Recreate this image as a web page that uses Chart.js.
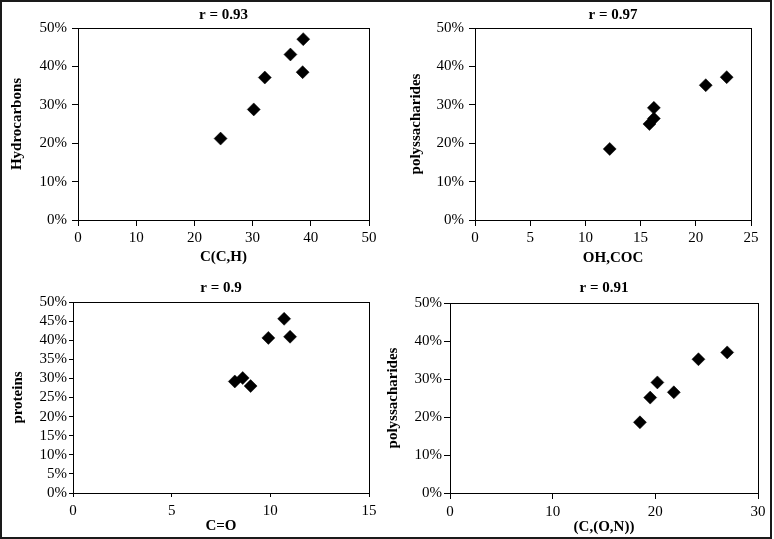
<!DOCTYPE html>
<html>
<head>
<meta charset="utf-8">
<script src="https://cdn.jsdelivr.net/npm/chart.js@4/dist/chart.umd.min.js"></script>
<style>
  html, body { margin: 0; padding: 0; background: #fff; }
  body { width: 774px; height: 539px; position: relative; overflow: hidden; }
  canvas { position: absolute; }
  #frame { position: absolute; left: 0; top: 0; width: 772px; height: 539px;
           box-sizing: border-box; border: 2px solid #1a1a1a; pointer-events: none; }
</style>
</head>
<body>
<canvas id="c1"></canvas>
<canvas id="c2"></canvas>
<canvas id="c3"></canvas>
<canvas id="c4"></canvas>
<div id="frame"></div>
<script>
// data
const titles = ['r = 0.93', 'r = 0.97', 'r = 0.9', 'r = 0.91'];
const xTitles = ['C(C,H)', 'OH,COC', 'C=O', '(C,(O,N))'];
const yTitles = ['Hydrocarbons', 'polyssacharides', 'proteins', 'polyssacharides'];

const hcX = [24.5, 30.2, 32.1, 36.5, 38.7, 38.6];
const hcY = [21.2, 28.8, 37.1, 43.1, 47.1, 38.5];
const ohX = [12.2, 15.8, 16.2, 16.2, 20.9, 22.8];
const ohY = [18.5, 25.0, 26.4, 29.2, 35.1, 37.2];
const coX = [8.2, 8.6, 9.0, 9.9, 10.7, 11.0];
const coY = [29.2, 30.1, 28.0, 40.6, 45.6, 40.9];
const conX = [18.5, 19.5, 20.2, 21.8, 24.2, 27.0];
const conY = [18.6, 25.1, 29.1, 26.5, 35.2, 37.0];

const xMax = [50, 25, 15, 30];
const xStep = [10, 5, 5, 10];
const yMax = [50, 50, 50, 50];
const yStep = [10, 10, 5, 10];

const seriesX = [hcX, ohX, coX, conX];
const seriesY = [hcY, ohY, coY, conY];

// panel placement (canvas box + fixed axis sizes)
const panels = [
  { left: 0,   top: 0,   w: 387, h: 270, yW: 78, xH: 50, padR: 18, padT: 28, tY: 15, yTP: 8,  xTP: 4, tl: 6, ytp: 5, xtp: 3 },
  { left: 387, top: 0,   w: 387, h: 270, yW: 88, xH: 50, padR: 23, padT: 28, tY: 15, yTP: 20, xTP: 3, tl: 6, ytp: 5, xtp: 3 },
  { left: 0,   top: 270, w: 387, h: 269, yW: 73, xH: 46, padR: 18, padT: 32, tY: 18, yTP: 9,  xTP: 4, tl: 4, ytp: 2, xtp: 5 },
  { left: 387, top: 270, w: 387, h: 269, yW: 63, xH: 46, padR: 16, padT: 33, tY: 18, yTP: -3, xTP: 3, tl: 6, ytp: 2, xtp: 4 }
];

const serif = '"Liberation Serif", "Times New Roman", serif';

const boxFrame = {
  id: 'boxFrame',
  beforeDatasetsDraw(chart) {
    const { ctx, chartArea: a } = chart;
    ctx.save();
    ctx.strokeStyle = '#000';
    ctx.lineWidth = 1;
    ctx.strokeRect(Math.round(a.left) + 0.5, Math.round(a.top) + 0.5,
      Math.round(a.right - a.left), Math.round(a.bottom - a.top));
    ctx.restore();
  }
};

// chart title centred over the plot area, like the original
const areaTitle = {
  id: 'areaTitle',
  afterDraw(chart, args, opts) {
    const { ctx, chartArea: a } = chart;
    ctx.save();
    ctx.fillStyle = '#000';
    ctx.font = 'bold 15px ' + serif;
    ctx.textAlign = 'center';
    ctx.textBaseline = 'middle';
    ctx.fillText(opts.text, (a.left + a.right) / 2, opts.y);
    ctx.restore();
  }
};

panels.forEach((p, i) => {
  const cv = document.getElementById('c' + (i + 1));
  cv.style.left = p.left + 'px';
  cv.style.top = p.top + 'px';
  cv.style.width = p.w + 'px';
  cv.style.height = p.h + 'px';
  cv.width = p.w;
  cv.height = p.h;

  const pts = seriesX[i].map((x, k) => ({ x: x, y: seriesY[i][k] }));

  new Chart(cv.getContext('2d'), {
    type: 'scatter',
    data: {
      datasets: [{
        data: pts,
        pointStyle: 'rectRot',
        pointRadius: 6.5,
        pointBackgroundColor: '#000',
        pointBorderColor: '#000',
        pointBorderWidth: 0.5
      }]
    },
    plugins: [boxFrame, areaTitle],
    options: {
      responsive: false,
      animation: false,
      layout: { padding: { left: 0, right: p.padR, top: p.padT, bottom: 0 } },
      plugins: {
        legend: { display: false },
        tooltip: { enabled: false },
        title: { display: false },
        areaTitle: { text: titles[i], y: p.tY }
      },
      scales: {
        x: {
          type: 'linear',
          min: 0,
          max: xMax[i],
          afterFit: s => { s.height = p.xH; },
          border: { display: false },
          grid: { drawOnChartArea: false, drawTicks: true, tickLength: p.tl, color: '#000' },
          ticks: { stepSize: xStep[i], color: '#000', padding: p.xtp, maxRotation: 0,
                   autoSkip: false, font: { family: serif, size: 15 } },
          title: { display: true, text: xTitles[i], color: '#000',
                   font: { family: serif, size: 15, weight: 'bold' },
                   padding: { top: 0, bottom: p.xTP } }
        },
        y: {
          type: 'linear',
          min: 0,
          max: yMax[i],
          afterFit: s => { s.width = p.yW; },
          border: { display: false },
          grid: { drawOnChartArea: false, drawTicks: true, tickLength: p.tl, color: '#000' },
          ticks: { stepSize: yStep[i], color: '#000', padding: p.ytp, autoSkip: false,
                   callback: v => v + '%',
                   font: { family: serif, size: 15 } },
          title: { display: true, text: yTitles[i], color: '#000',
                   font: { family: serif, size: 15, weight: 'bold' },
                   padding: { top: p.yTP, bottom: 0 } }
        }
      }
    }
  });
});
</script>
</body>
</html>
